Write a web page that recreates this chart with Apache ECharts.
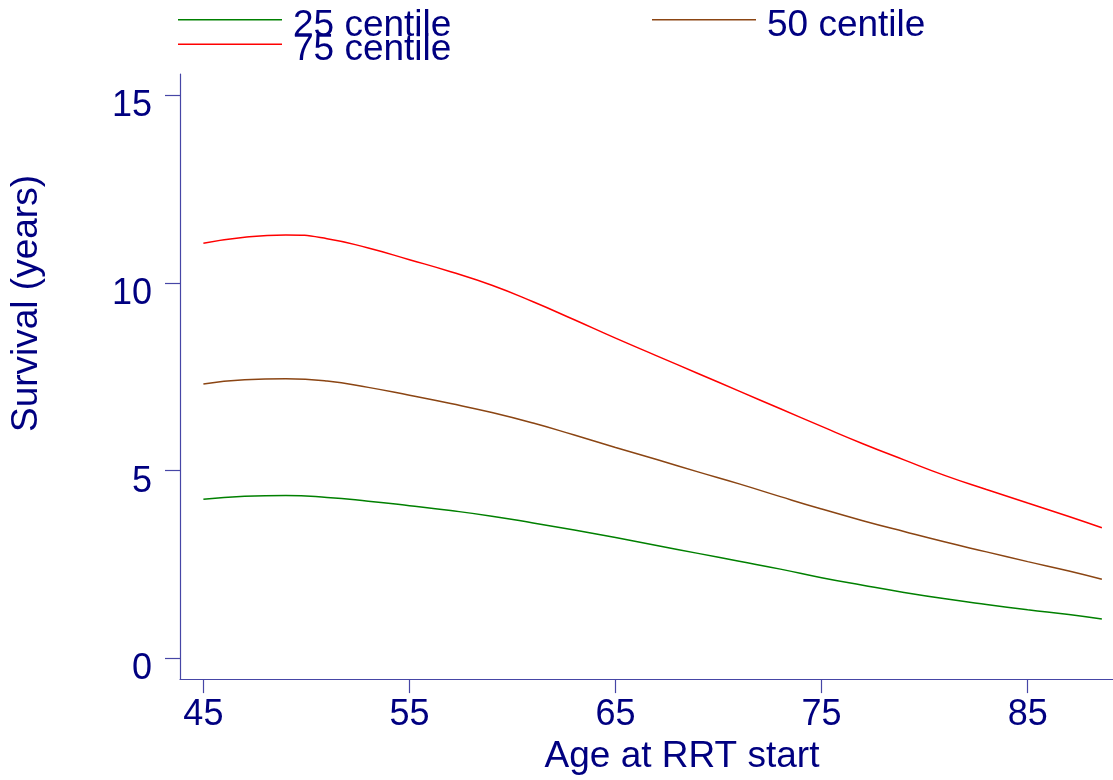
<!DOCTYPE html>
<html>
<head>
<meta charset="utf-8">
<title>Survival by age at RRT start</title>
<script src="https://cdn.jsdelivr.net/npm/echarts@6/dist/echarts.min.js"></script>
<style>
  html, body { margin: 0; padding: 0; background: #ffffff; }
  #chart { width: 1113px; height: 780px; }
</style>
</head>
<body>
<div id="chart"></div>
<script>
// Age at start of renal replacement therapy (years)
const ages = [45, 47, 49, 51, 53, 55, 57, 59, 61, 63, 65, 67, 69, 71, 73, 75, 77, 79, 81, 83, 85, 87, 88.6];

// Survival (years) at each centile
const centile25 = [4.24, 4.32, 4.34, 4.29, 4.19, 4.07, 3.94, 3.79, 3.61, 3.42, 3.22, 3.01, 2.80, 2.59, 2.38, 2.15, 1.95, 1.76, 1.59, 1.44, 1.30, 1.17, 1.05];
const centile50 = [7.31, 7.42, 7.45, 7.39, 7.22, 7.01, 6.79, 6.55, 6.27, 5.95, 5.62, 5.30, 4.97, 4.65, 4.31, 3.98, 3.67, 3.38, 3.10, 2.84, 2.58, 2.33, 2.11];
const centile75 = [11.06, 11.22, 11.28, 11.18, 10.93, 10.62, 10.30, 9.94, 9.50, 9.02, 8.53, 8.06, 7.59, 7.12, 6.65, 6.18, 5.72, 5.29, 4.87, 4.50, 4.14, 3.78, 3.48];

const seriesNames = ['25 centile', '50 centile', '75 centile'];
const seriesColors = ['#008000', '#8b4513', '#ff0000'];

const xTicks = [45, 55, 65, 75, 85];
const yTicks = [0, 5, 10, 15];

const navy = '#000080';
const axisColor = '#4646a6';
const font = 'Liberation Sans, Arial, Helvetica, sans-serif';

const pairs = vals => ages.map((a, i) => [a, vals[i]]);

// Legend keys: a plain line followed by the label, set slightly below the line
const legendBase = {
  orient: 'horizontal',
  padding: 0,
  icon: 'rect',
  itemWidth: 104,
  itemHeight: 1.4,
  itemGap: 0,
  selectedMode: false,
  formatter: '{t|{name}}',
  textStyle: {
    rich: {
      t: { fontFamily: font, fontSize: 37, color: navy, lineHeight: 40, padding: [11, 0, 0, 6] }
    }
  }
};

const chart = echarts.init(document.getElementById('chart'), null, { renderer: 'canvas' });

chart.setOption({
  backgroundColor: '#ffffff',
  animation: false,
  textStyle: { fontFamily: font },
  legend: [
    Object.assign({}, legendBase, { data: [seriesNames[0]], left: 178, top: -4.2 }),
    Object.assign({}, legendBase, { data: [seriesNames[1]], left: 652, top: -4.2 }),
    Object.assign({}, legendBase, { data: [seriesNames[2]], left: 178, top: 20.2 })
  ],
  grid: { left: 179.5, right: 0, top: 74, bottom: 97.3, containLabel: false },
  xAxis: {
    type: 'value',
    min: 43.865,
    max: 89.14,
    name: 'Age at RRT start',
    nameLocation: 'middle',
    nameGap: 58,
    nameTextStyle: { fontFamily: font, fontSize: 37, color: navy, padding: [0, 0, 0, 71] },
    axisLine: { show: true, onZero: false, lineStyle: { color: axisColor, width: 1.2 } },
    axisTick: { show: true, inside: false, length: 14, customValues: xTicks, lineStyle: { color: axisColor, width: 1.2 } },
    axisLabel: { customValues: xTicks, fontFamily: font, fontSize: 36, color: navy, margin: 18 },
    splitLine: { show: false }
  },
  yAxis: {
    type: 'value',
    min: -0.548,
    max: 15.564,
    name: 'Survival (years)',
    nameLocation: 'middle',
    nameRotate: 90,
    nameGap: 135,
    nameTextStyle: { fontFamily: font, fontSize: 37, color: navy, padding: [0, 0, 0, 146] },
    axisLine: { show: true, onZero: false, lineStyle: { color: axisColor, width: 1.2 } },
    axisTick: { show: true, inside: false, length: 15, customValues: yTicks, lineStyle: { color: axisColor, width: 1.2 } },
    axisLabel: { customValues: yTicks, fontFamily: font, fontSize: 36, color: navy, margin: 28, verticalAlign: 'top', lineHeight: 22 },
    splitLine: { show: false }
  },
  series: [centile25, centile50, centile75].map((vals, i) => ({
    name: seriesNames[i],
    type: 'line',
    data: pairs(vals),
    smooth: true,
    symbol: 'none',
    lineStyle: { color: seriesColors[i], width: 1.5 },
    itemStyle: { color: seriesColors[i] }
  }))
});
</script>
</body>
</html>
